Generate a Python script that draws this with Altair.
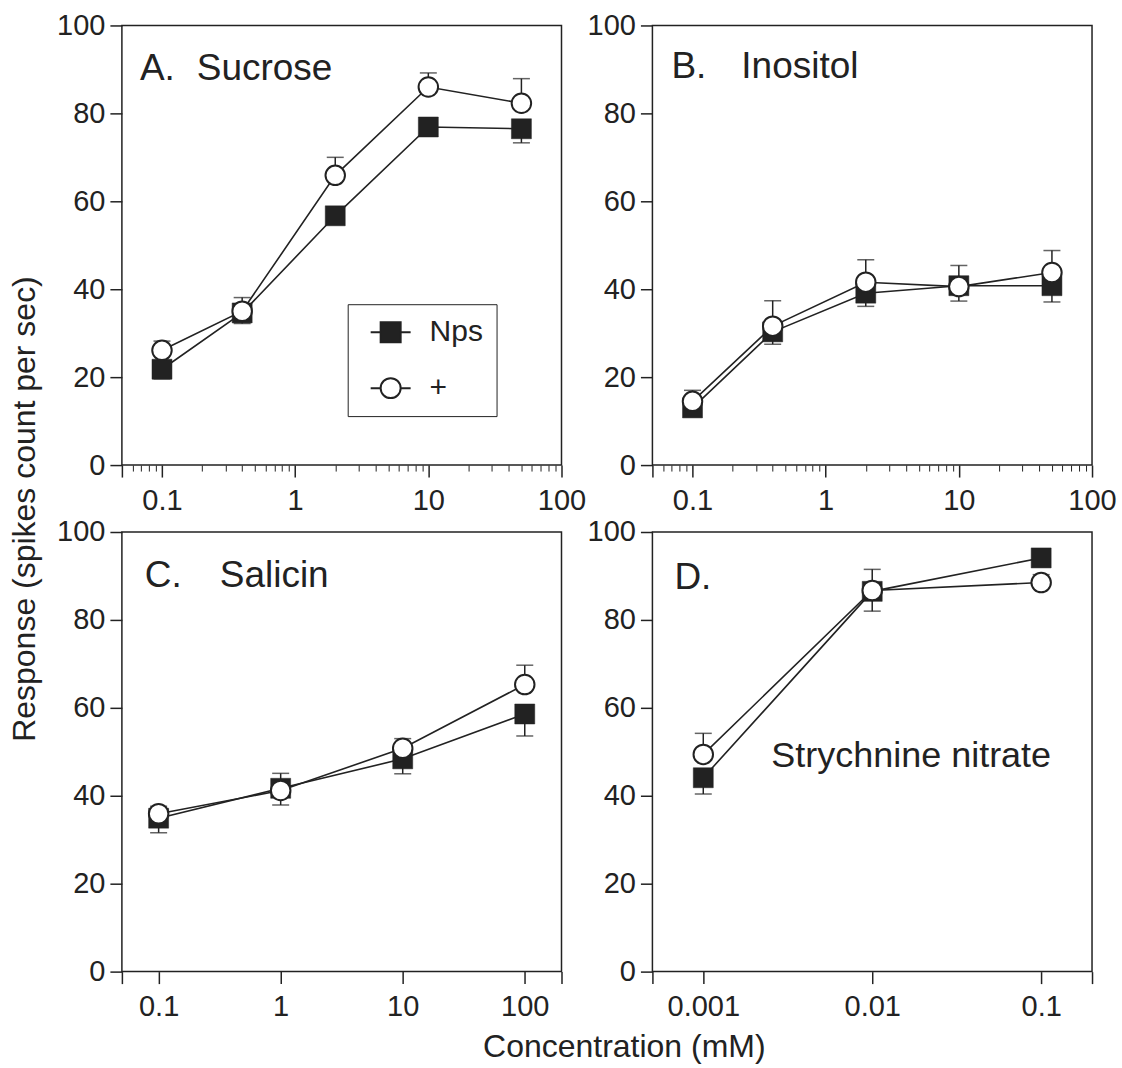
import altair as alt
import pandas as pd

FONT = "Liberation Sans"
INK = "#222222"

series_names = ["Nps", "+"]

# Panel A: Sucrose
conc_A = [0.1, 0.4, 2, 10, 50]
nps_A = [21.8, 34.6, 56.7, 76.9, 76.5]
nps_err_A = [2.2, 2.4, 1.5, 1.5, 3.2]
plus_A = [26.1, 35.0, 65.9, 86.0, 82.3]
plus_err_A = [2.1, 3.1, 4.1, 3.2, 5.6]

# Panel B: Inositol
conc_B = [0.1, 0.4, 2, 10, 50]
nps_B = [13.0, 30.3, 39.1, 40.8, 40.8]
nps_err_B = [1.5, 2.8, 3.0, 3.5, 3.7]
plus_B = [14.5, 31.6, 41.6, 40.6, 43.8]
plus_err_B = [2.5, 5.8, 5.1, 4.8, 5.0]

# Panel C: Salicin
conc_C = [0.1, 1, 10, 100]
nps_C = [34.9, 41.7, 48.4, 58.6]
nps_err_C = [3.3, 3.8, 3.4, 5.0]
plus_C = [35.9, 41.2, 50.8, 65.3]
plus_err_C = [1.7, 3.9, 2.2, 4.4]

# Panel D: Strychnine nitrate
conc_D = [0.001, 0.01, 0.1]
nps_D = [44.1, 86.5, 94.1]
nps_err_D = [3.7, 4.5, 1.5]
plus_D = [49.4, 86.7, 88.5]
plus_err_D = [4.8, 4.8, 1.8]

# axis tick values / labels
y_ticks = [0, 20, 40, 60, 80, 100]
majors_AB = [0.05, 0.1, 1, 10, 100]
labels_AB = [0.1, 1, 10, 100]
minors_AB = [0.06, 0.07, 0.08, 0.09,
             0.2, 0.3, 0.4, 0.5, 0.6, 0.7, 0.8, 0.9,
             2, 3, 4, 5, 6, 7, 8, 9,
             20, 30, 40, 50, 60, 70, 80, 90]
majors_C = [0.05, 0.1, 1, 10, 100, 200]
labels_C = [0.1, 1, 10, 100]
majors_D = [0.0005, 0.001, 0.01, 0.1, 0.2]
labels_D = [0.001, 0.01, 0.1]

panel_letters = ["A.", "B.", "C.", "D."]
panel_names = ["Sucrose", "Inositol", "Salicin", "Strychnine nitrate"]
x_title = "Concentration (mM)"
y_title = "Response (spikes count per sec)"

W = H = 440

SQ_PATH = "M-2,0H-1M1,0H2M-1,-1H1V1H-1Z"
CI_PATH = "M-2,0H-1M1,0H2M-1,0A1,1,0,1,1,1,0A1,1,0,1,1,-1,0Z"

y_axis = alt.Axis(values=y_ticks, tickSize=12, tickWidth=1.5, tickColor=INK,
                  labelFontSize=29, labelPadding=5, labelColor=INK, labelFont=FONT,
                  domain=False, grid=False, title=None)


def major_axis(values, labels):
    expr = "indexof(%s, datum.value) >= 0 ? format(datum.value, '~g') : ''" % str(labels)
    return alt.Axis(values=values, labelExpr=expr, tickSize=12, tickWidth=1.5, tickColor=INK,
                    labelFontSize=29, labelPadding=9, labelColor=INK, labelFont=FONT,
                    labelFlush=False, labelOverlap=False, domain=False, grid=False,
                    title=None, orient="bottom")


def minor_axis(values):
    return alt.Axis(values=values, labels=False, tickSize=6, tickWidth=1, tickColor=INK,
                    domain=False, grid=False, title=None, orient="bottom")


def text_layer(text, px, py, size=37):
    return alt.Chart(pd.DataFrame({"t": [text]})).mark_text(
        align="left", baseline="alphabetic", fontSize=size, font=FONT, color=INK
    ).encode(text="t:N", x=alt.value(px), y=alt.value(py))


def panel(conc, nps, nps_err, plus, plus_err, domain, majors, labels, minors, texts, legend=None):
    n = len(conc)
    df = pd.DataFrame({
        "conc": conc + conc,
        "series": [series_names[0]] * n + [series_names[1]] * n,
        "value": nps + plus,
        "end": [v - e for v, e in zip(nps, nps_err)] + [v + e for v, e in zip(plus, plus_err)],
    })
    xs = alt.Scale(type="log", domain=domain, nice=False)
    ys = alt.Scale(domain=[0, 100], nice=False, zero=False)
    base = alt.Chart(df)

    lines = base.mark_line(color=INK, strokeWidth=1.6).encode(
        x=alt.X("conc:Q", scale=xs, axis=major_axis(majors, labels)),
        y=alt.Y("value:Q", scale=ys, axis=y_axis),
        detail="series:N",
    )
    rules = base.mark_rule(color=INK, strokeWidth=1.5).encode(
        x=alt.X("conc:Q", scale=xs, axis=minor_axis(minors) if minors else None),
        y=alt.Y("value:Q", scale=ys, axis=y_axis),
        y2="end:Q",
    )
    caps = base.mark_tick(orient="horizontal", size=17, thickness=1.5, color=INK).encode(
        x=alt.X("conc:Q", scale=xs, axis=None),
        y=alt.Y("end:Q", scale=ys, axis=y_axis),
    )
    squares = base.transform_filter(alt.datum.series == series_names[0]).mark_point(
        shape="square", size=400, filled=True, fill=INK, stroke=INK, strokeWidth=0.5, opacity=1
    ).encode(
        x=alt.X("conc:Q", scale=xs, axis=None),
        y=alt.Y("value:Q", scale=ys, axis=y_axis),
    )
    circles = base.transform_filter(alt.datum.series == series_names[1]).mark_point(
        shape="circle", size=380, filled=True, fill="white", stroke=INK, strokeWidth=2, opacity=1
    ).encode(
        x=alt.X("conc:Q", scale=xs, axis=None),
        y=alt.Y("value:Q", scale=ys, axis=y_axis),
    )
    layers = [lines, rules, caps, squares, circles]
    for (t, px, py, sz) in texts:
        layers.append(text_layer(t, px, py, sz))
    if legend is not None:
        lx, ly = legend
        leg_props = dict(orient="none", legendX=lx, legendY=ly, title=None,
                         symbolSize=400, symbolStrokeWidth=2,
                         symbolOffset=15, symbolOpacity=1,
                         labelFontSize=30, labelFont=FONT, labelColor=INK, labelOffset=24,
                         padding=13, rowPadding=26, strokeColor=INK, fillColor="white")
        leg_df = pd.DataFrame({"series": series_names})
        leg = alt.Chart(leg_df).mark_point(opacity=0, filled=True, strokeWidth=2, size=400).encode(
            x=alt.value(0), y=alt.value(0),
            shape=alt.Shape("series:N", scale=alt.Scale(domain=series_names, range=[SQ_PATH, CI_PATH]),
                            legend=alt.Legend(**leg_props)),
            fill=alt.Fill("series:N", scale=alt.Scale(domain=series_names, range=[INK, "white"]),
                          legend=alt.Legend(**leg_props)),
            stroke=alt.Stroke("series:N", scale=alt.Scale(domain=series_names, range=[INK, INK]),
                              legend=alt.Legend(**leg_props)),
        )
        layers.append(leg)
    return alt.layer(*layers).resolve_axis(x="independent").properties(width=W, height=H)


pA = panel(conc_A, nps_A, nps_err_A, plus_A, plus_err_A, [0.05, 100], majors_AB, labels_AB, minors_AB,
           [(panel_letters[0], 18, 55, 37), (panel_names[0], 75, 55, 37)], legend=(226, 279))
pB = panel(conc_B, nps_B, nps_err_B, plus_B, plus_err_B, [0.05, 100], majors_AB, labels_AB, minors_AB,
           [(panel_letters[1], 19, 53, 37), (panel_names[1], 89, 53, 37)])
pC = panel(conc_C, nps_C, nps_err_C, plus_C, plus_err_C, [0.05, 200], majors_C, labels_C, None,
           [(panel_letters[2], 23, 55, 37), (panel_names[2], 98, 55, 37)])
pD = panel(conc_D, nps_D, nps_err_D, plus_D, plus_err_D, [0.0005, 0.2], majors_D, labels_D, None,
           [(panel_letters[3], 22, 57, 37), (panel_names[3], 119, 235, 36)])

grid = alt.concat(
    pA, pB, pC, pD, columns=2, spacing={"row": 67, "column": 91}, bounds="flush",
    title=alt.TitleParams(x_title, orient="bottom", anchor="middle", offset=10, dx=38, fontSize=32),
)

chart = alt.vconcat(
    grid,
    title=alt.TitleParams(y_title, orient="left", anchor="middle", offset=14, dx=28, fontSize=32),
    padding={"left": 8, "top": 10, "right": 5, "bottom": 5},
).configure_view(
    stroke=INK, strokeWidth=1.5
).configure_title(
    font=FONT, fontSize=31, fontWeight="normal", color=INK
)

chart.save("out.html", embed_options={"renderer": "svg", "actions": False})
